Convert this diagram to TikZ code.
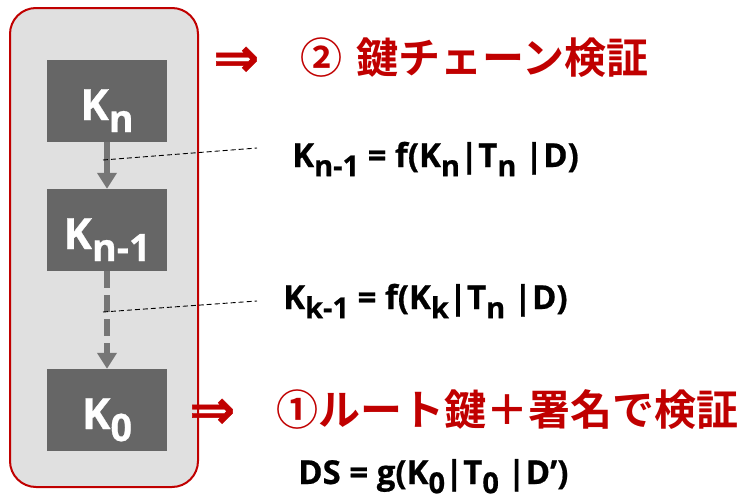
\documentclass[tikz,border=0pt]{standalone}
\usepackage{fontspec}
\usepackage{graphicx}
\setmainfont{Open Sans}
\newfontfamily\jp{Noto Sans CJK JP}[BoldFont={Noto Sans CJK JP Bold}]
\newfontfamily\djv{DejaVu Sans}[BoldFont={DejaVu Sans Bold}]
\usetikzlibrary{arrows.meta}
\definecolor{jred}{HTML}{C00000}
\definecolor{panelgray}{HTML}{E0E0E0}
\definecolor{boxgray}{HTML}{666666}
\definecolor{arrgray}{HTML}{767676}
\newcommand\lo[1]{\raisebox{-0.28em}{\scalebox{0.88}{#1}}}
\tikzset{
  panel/.style={draw=jred, line width=2pt, fill=panelgray, rounded corners=26pt},
  kbox/.style={fill=boxgray, minimum width=120pt, minimum height=82pt, inner sep=0pt,
    text height=38pt, text depth=0pt,
    text=white, font=\fontsize{43}{46}\selectfont\bfseries\addfontfeature{FakeBold=0.6}},
  chainarrow/.style={draw=arrgray, line width=6pt, -{Triangle[width=19pt,length=16pt]}},
  leader/.style={draw=black, line width=0.9pt, dash pattern=on 5pt off 3pt},
  formula/.style={anchor=base west, inner sep=0pt,
    font=\fontsize{33}{36}\selectfont\bfseries\addfontfeature{FakeBold=0.6}},
  title/.style={anchor=base west, inner sep=0pt, text=jred, font=\jp\bfseries\fontsize{42}{46}\selectfont}
}
\newcommand\darr{\raisebox{-3.5pt}{\djv\bfseries\fontsize{55}{55}\selectfont\addfontfeature{FakeBold=0.8}⇒}}
\begin{document}
\begin{tikzpicture}[x=1pt,y=-1pt]
\useasboundingbox (0,0) rectangle (745,501);
\path[panel] (10,8) rectangle (198,487);
\node[kbox] (kn) at (107,101) {K\lo{n}};
\node[kbox] (kn1) at (107,230) {K\lo{n-1}};
\node[kbox] (k0) at (107,410) {K\lo{0}};
\draw[chainarrow] (kn.south) -- (kn1.north);
\draw[chainarrow, dash pattern=on 17pt off 7pt] (kn1.south) -- (k0.north);
\coordinate (l1a) at (103,160);
\coordinate (l1b) at (257,148);
\coordinate (l2a) at (103,312);
\coordinate (l2b) at (257,301);
\draw[leader] (l1a) -- (l1b);
\draw[leader] (l2a) -- (l2b);
\node[formula] (f1) at (292,167) {K\lo{n-1} = f(K\lo{n}|T\lo{n} |D)};
\node[formula] (f2) at (283,309) {K\lo{k-1} = f(K\lo{k}|T\lo{n} |D)};
\node[formula] (f3) at (298,484) {DS = g(K\lo{0}|T\lo{0} |D’)};
\node[title] (t1) at (213,73) {\makebox[87pt][l]{\darr}②\hspace{0.33em}鍵チェーン検証};
\node[title] (t2) at (189,425) {\makebox[87pt][l]{\darr}①ルート鍵＋署名で検証};
\end{tikzpicture}
\end{document}
